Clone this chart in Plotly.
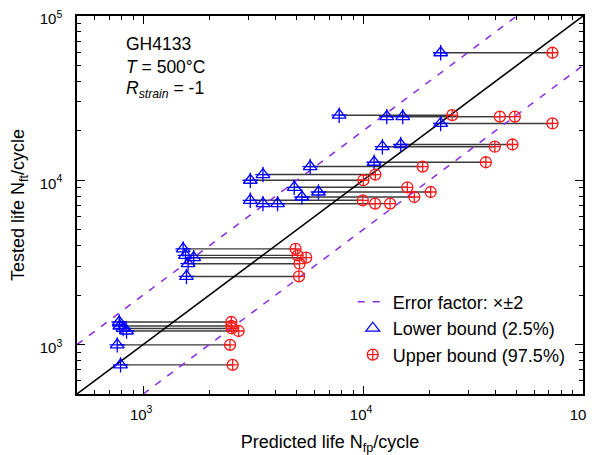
import plotly.graph_objects as go
import numpy as np

# Tested life (cycles) for each specimen
tested_life = [10000, 10834, 12120, 12877, 9064, 8485, 7910, 7551, 7210, 7210,
               24900, 24390, 24390, 22170, 16010, 16510, 59730,
               3825, 3488, 3379, 3105, 2598,
               1372, 1297, 1253, 1209, 996, 752]
# Predicted life lower bound (2.5%)
lower_bound = [3069, 3505, 5745, 11220, 4861, 6266, 5269, 3069, 3505, 4083,
               7783, 12814, 15140, 22530, 12237, 14830, 22530,
               1519, 1556, 1697, 1600, 1573,
               778, 783, 810, 840, 762, 789]
# Predicted life upper bound (97.5%)
upper_bound = [10032, 11370, 18660, 36160, 15890, 20290, 17100, 9970, 11340, 13265,
               25430, 41870, 48970, 72630, 39730, 47800, 72630,
               4929, 5040, 5510, 5140, 5110,
               2516, 2516, 2530, 2716, 2483, 2551]

axis_min, axis_max = 500, 100000
error_factor = 2
major_ticks = [1000, 10000, 100000]
major_labels = ["10<sup>3</sup>", "10<sup>4</sup>", "10<sup>5</sup>"]
minor_ticks = [m * 10 ** e for e in (2, 3, 4) for m in range(2, 10) if axis_min <= m * 10 ** e <= axis_max]

FONT = "Arial, Liberation Sans, sans-serif"

fig = go.Figure()

# connecting lines
lx, ly = [], []
for lo, up, t in zip(lower_bound, upper_bound, tested_life):
    lx += [lo, up, None]
    ly += [t, t, None]
fig.add_trace(go.Scatter(x=lx, y=ly, mode="lines", line=dict(color="#3a3a3a", width=1.4),
                         showlegend=False, hoverinfo="skip"))

# 1:1 line
fig.add_trace(go.Scatter(x=[axis_min, axis_max], y=[axis_min, axis_max], mode="lines",
                         line=dict(color="black", width=1.5), showlegend=False))
# error band lines
fig.add_trace(go.Scatter(x=[axis_min, axis_max / error_factor], y=[axis_min * error_factor, axis_max],
                         mode="lines", line=dict(color="#8a2be2", width=1.5, dash="7px,8px"),
                         name="Error factor: ×±2"))
fig.add_trace(go.Scatter(x=[axis_min * error_factor, axis_max], y=[axis_min, axis_max / error_factor],
                         mode="lines", line=dict(color="#8a2be2", width=1.5, dash="7px,8px"),
                         showlegend=False))

# lower bound markers (triangle with cross)
fig.add_trace(go.Scatter(x=lower_bound, y=tested_life, mode="markers",
                         marker=dict(symbol="triangle-up-open", size=12, color="#0000ff",
                                     line=dict(width=1.3, color="#0000ff")),
                         name="Lower bound (2.5%)"))
fig.add_trace(go.Scatter(x=lower_bound, y=tested_life, mode="markers",
                         marker=dict(symbol="cross-thin-open", size=11, color="#0000ff",
                                     line=dict(width=1.3, color="#0000ff")),
                         showlegend=False))
# upper bound markers
fig.add_trace(go.Scatter(x=upper_bound, y=tested_life, mode="markers",
                         marker=dict(symbol="circle-cross-open", size=11, color="#ff1a1a",
                                     line=dict(width=1.3, color="#ff1a1a")),
                         name="Upper bound (97.5%)"))

axis_common = dict(type="log", range=[np.log10(axis_min), np.log10(axis_max)],
                   showline=True, linecolor="black", linewidth=1.5, mirror="ticks",
                   ticks="inside", ticklen=8, tickwidth=1.2, tickcolor="black",
                   tickvals=major_ticks, ticktext=major_labels, showgrid=False, zeroline=False,
                   automargin=False, ticklabeloverflow="allow",
                   tickfont=dict(size=15, color="black", family=FONT),
                   minor=dict(ticks="inside", ticklen=4, tickwidth=1, tickcolor="black",
                              tickvals=minor_ticks, showgrid=False))

fig.update_layout(
    width=595, height=447,
    margin=dict(l=69, r=20, t=8, b=61),
    paper_bgcolor="white", plot_bgcolor="white",
    font=dict(family=FONT, color="black", size=17),
    xaxis=dict(axis_common, ticklabelstandoff=6, ticklabelshift=-2,
               title=dict(text="Predicted life N<sub>fp</sub>/cycle",
                          font=dict(size=18, family=FONT), standoff=14)),
    yaxis=dict(axis_common, ticklabelstandoff=10, ticklabelshift=3,
               title=dict(text="Tested life N<sub>ft</sub>/cycle",
                          font=dict(size=18, family=FONT), standoff=10)),
    legend=dict(x=0.545, y=0.292, xanchor="left", yanchor="top", bgcolor="rgba(0,0,0,0)",
                font=dict(size=18, family=FONT), tracegroupgap=0),
    showlegend=True,
)

ann_font = dict(size=17.5, family=FONT, color="black")
fig.add_annotation(xref="paper", yref="paper", x=0.093, y=0.926, xanchor="left", yanchor="middle",
                   text="GH4133", showarrow=False, font=ann_font)
fig.add_annotation(xref="paper", yref="paper", x=0.093, y=0.865, xanchor="left", yanchor="middle",
                   text="<i>T</i> = 500°C", showarrow=False, font=ann_font)
fig.add_annotation(xref="paper", yref="paper", x=0.093, y=0.805, xanchor="left", yanchor="middle",
                   text="<i>R</i><sub><i>strain</i></sub> = -1", showarrow=False, font=ann_font)

fig.write_html("out.html")
